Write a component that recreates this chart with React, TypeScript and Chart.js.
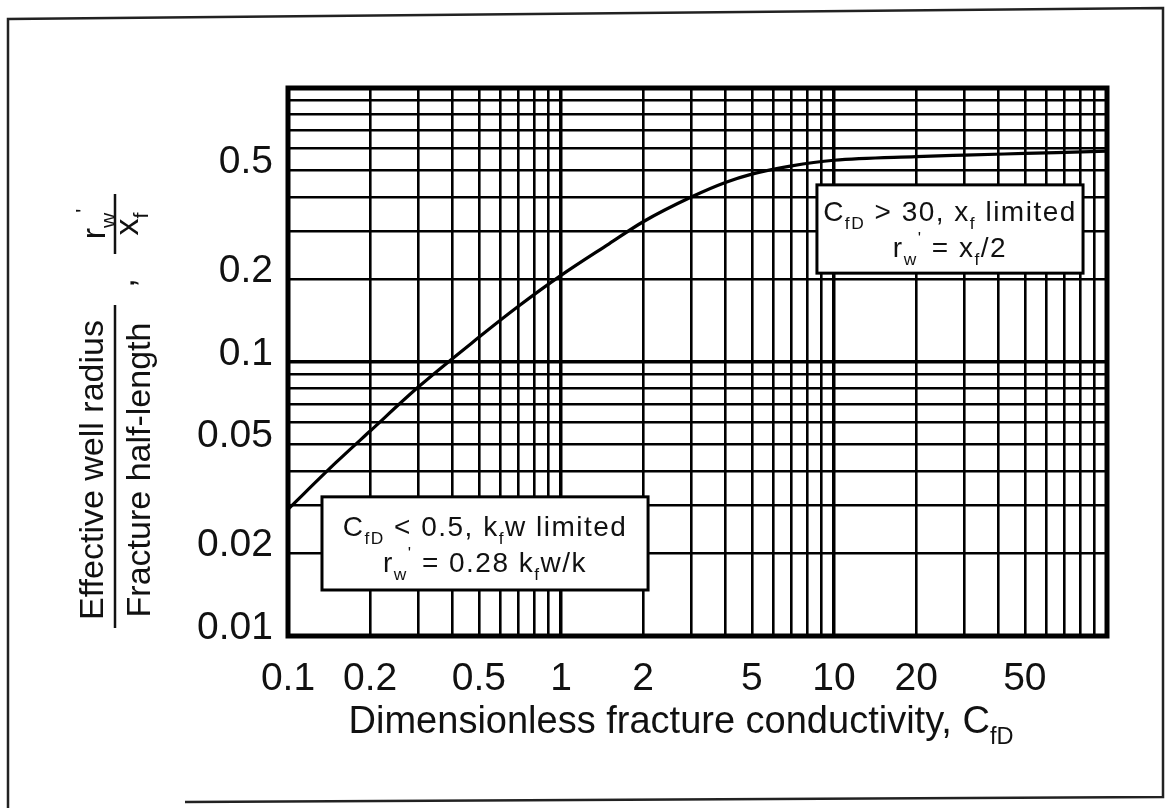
import React, { useEffect, useRef } from 'react';
import { Chart, registerables } from 'chart.js';

Chart.register(...registerables);

// ---- data ----
const cfd = [0.1, 0.15, 0.2, 0.3, 0.5, 0.7, 1, 1.5, 2, 3, 4, 5, 7, 10, 20, 30, 50, 100];
const rwOverXf = [0.029, 0.043, 0.056, 0.081, 0.123, 0.16, 0.207, 0.27, 0.325, 0.4, 0.452, 0.485, 0.52, 0.545, 0.562, 0.569, 0.577, 0.588];

const xTickLabels = ['0.1', '0.2', '0.5', '1', '2', '5', '10', '20', '50'];
const yTickLabels = ['0.01', '0.02', '0.05', '0.1', '0.2', '0.5'];
const xRange = [0.1, 100];
const yRange = [0.01, 1];

type Seg = { t: string; s?: 'sub' | 'sup' };

const xTitle: Seg[] = [{ t: 'Dimensionless fracture conductivity, C' }, { t: 'fD', s: 'sub' }];
const yTitleNumerator: Seg[] = [{ t: 'Effective well radius' }];
const yTitleDenominator: Seg[] = [{ t: 'Fracture half-length' }];
const yTitleRatioTop: Seg[] = [{ t: 'r' }, { t: 'w', s: 'sub' }, { t: "'", s: 'sup' }];
const yTitleRatioBottom: Seg[] = [{ t: 'x' }, { t: 'f', s: 'sub' }];

// annotation boxes, corners in data units
const noteBoxes = [
  {
    x0: 8.66, x1: 81.7, yTop: 0.443, yBottom: 0.211,
    lines: [
      [{ t: 'C' }, { t: 'fD', s: 'sub' }, { t: ' > 30, x' }, { t: 'f', s: 'sub' }, { t: ' limited' }] as Seg[],
      [{ t: 'r' }, { t: 'w', s: 'sub' }, { t: "'", s: 'sup' }, { t: ' = x' }, { t: 'f', s: 'sub' }, { t: '/2' }] as Seg[],
    ],
  },
  {
    x0: 0.1332, x1: 2.084, yTop: 0.0322, yBottom: 0.01472,
    lines: [
      [{ t: 'C' }, { t: 'fD', s: 'sub' }, { t: ' < 0.5, k' }, { t: 'f', s: 'sub' }, { t: 'w limited' }] as Seg[],
      [{ t: 'r' }, { t: 'w', s: 'sub' }, { t: "'", s: 'sup' }, { t: ' = 0.28 k' }, { t: 'f', s: 'sub' }, { t: 'w/k' }] as Seg[],
    ],
  },
];

const FAMILY = '"Liberation Sans", Arial, Helvetica, sans-serif';
const INK = '#111';

function logGrid(min: number, max: number): number[] {
  const out: number[] = [];
  for (let e = Math.floor(Math.log10(min)); e <= Math.ceil(Math.log10(max)); e++) {
    for (let m = 1; m <= 9; m++) {
      const v = Number((m * Math.pow(10, e)).toPrecision(6));
      if (v >= min - 1e-12 && v <= max + 1e-12) out.push(v);
    }
  }
  return out;
}

const xGrid = logGrid(xRange[0], xRange[1]);
const yGrid = logGrid(yRange[0], yRange[1]);

function labelFor(v: number, labels: string[]): string {
  const i = labels.findIndex((l) => Math.abs(Number(l) - v) / v < 1e-6);
  return i >= 0 ? labels[i] : '';
}

function isDecade(v: number): boolean {
  const l = Math.log10(v);
  return Math.abs(l - Math.round(l)) < 1e-6;
}

function drawRich(ctx: CanvasRenderingContext2D, segs: Seg[], cx: number, baseY: number, size: number, spacing = 0) {
  (ctx as any).letterSpacing = `${spacing}px`;
  const fsOf = (s: Seg) => (s.s ? size * 0.62 : size);
  const widths = segs.map((s) => {
    ctx.font = `${fsOf(s)}px ${FAMILY}`;
    return ctx.measureText(s.t).width;
  });
  const total = widths.reduce((a, b) => a + b, 0);
  let x = cx - total / 2;
  ctx.textAlign = 'left';
  ctx.textBaseline = 'alphabetic';
  segs.forEach((s, i) => {
    ctx.font = `${fsOf(s)}px ${FAMILY}`;
    const dy = s.s === 'sub' ? size * 0.3 : s.s === 'sup' ? -size * 0.45 : 0;
    ctx.fillText(s.t, x, baseY + dy);
    x += widths[i];
  });
  (ctx as any).letterSpacing = '0px';
}

const decorPlugin = {
  id: 'decor',
  afterDraw(chart: any) {
    const ctx: CanvasRenderingContext2D = chart.ctx;
    const { left, right, top, bottom } = chart.chartArea;
    const xs = chart.scales.x;
    const ys = chart.scales.y;
    ctx.save();

    // outer frame of the figure
    ctx.strokeStyle = '#222';
    ctx.lineWidth = 2.5;
    ctx.beginPath();
    ctx.moveTo(8, 808);
    ctx.lineTo(8, 19);
    ctx.lineTo(1163, 8);
    ctx.lineTo(1163, 797);
    ctx.lineTo(185, 802);
    ctx.stroke();

    // plot border
    ctx.strokeStyle = '#000';
    ctx.lineWidth = 5;
    ctx.strokeRect(left, top, right - left, bottom - top);

    // annotation boxes
    for (const b of noteBoxes) {
      const x0 = xs.getPixelForValue(b.x0);
      const x1 = xs.getPixelForValue(b.x1);
      const y0 = ys.getPixelForValue(b.yTop);
      const y1 = ys.getPixelForValue(b.yBottom);
      ctx.fillStyle = '#fff';
      ctx.fillRect(x0, y0, x1 - x0, y1 - y0);
      ctx.strokeStyle = '#000';
      ctx.lineWidth = 3;
      ctx.strokeRect(x0, y0, x1 - x0, y1 - y0);
      ctx.fillStyle = INK;
      const cx = (x0 + x1) / 2;
      const cy = (y0 + y1) / 2;
      const size = 28;
      b.lines.forEach((line, i) => {
        const lineCenter = cy + (i === 0 ? -18 : 18);
        drawRich(ctx, line, cx, lineCenter + size * 0.36, size, 1.5);
      });
    }

    // x-axis title
    ctx.fillStyle = INK;
    drawRich(ctx, xTitle, 681, 733, 38);

    // y-axis title (rotated)
    const rot = (px: number, py: number, fn: () => void) => {
      ctx.save();
      ctx.translate(px, py);
      ctx.rotate(-Math.PI / 2);
      fn();
      ctx.restore();
    };
    rot(103, 470, () => drawRich(ctx, yTitleNumerator, 0, 0, 34));
    rot(150, 470, () => drawRich(ctx, yTitleDenominator, 0, 0, 34));
    rot(134, 283, () => drawRich(ctx, [{ t: ',' }], 0, 0, 34));
    rot(105, 224, () => drawRich(ctx, yTitleRatioTop, 0, 0, 34));
    rot(138, 224, () => drawRich(ctx, yTitleRatioBottom, 0, 0, 34));
    ctx.strokeStyle = INK;
    ctx.lineWidth = 2.5;
    ctx.beginPath();
    ctx.moveTo(115, 305);
    ctx.lineTo(115, 628);
    ctx.moveTo(115, 194);
    ctx.lineTo(115, 254);
    ctx.stroke();

    ctx.restore();
  },
};

export default function App() {
  const ref = useRef<HTMLCanvasElement>(null);

  useEffect(() => {
    const canvas = ref.current!;
    const chart = new Chart(canvas, {
      type: 'line',
      data: {
        datasets: [
          {
            data: cfd.map((x, i) => ({ x, y: rwOverXf[i] })),
            borderColor: '#000',
            borderWidth: 3.2,
            pointRadius: 0,
            cubicInterpolationMode: 'monotone',
            fill: false,
          },
        ],
      },
      options: {
        animation: false,
        responsive: false,
        devicePixelRatio: 1,
        layout: { padding: { top: 88, right: 68, left: 0, bottom: 0 } },
        plugins: { legend: { display: false }, tooltip: { enabled: false } },
        events: [],
        scales: {
          x: {
            type: 'logarithmic',
            min: xRange[0],
            max: xRange[1],
            afterBuildTicks: (scale: any) => {
              scale.ticks = xGrid.map((v) => ({ value: v }));
            },
            afterFit: (scale: any) => {
              scale.height = 808 - 636;
              scale.paddingLeft = 0;
              scale.paddingRight = 0;
            },
            grid: {
              color: '#000',
              lineWidth: (c: any) => (c.tick && isDecade(c.tick.value) ? 3.5 : 2.6),
              drawTicks: false,
              tickLength: 0,
            },
            border: { display: false },
            ticks: {
              autoSkip: false,
              maxRotation: 0,
              minRotation: 0,
              padding: 20,
              color: INK,
              font: { family: FAMILY, size: 39 },
              callback: (_v: any, i: number, ticks: any[]) => labelFor(ticks[i].value, xTickLabels),
            },
          },
          y: {
            type: 'logarithmic',
            min: yRange[0],
            max: yRange[1],
            afterBuildTicks: (scale: any) => {
              scale.ticks = yGrid.map((v) => ({ value: v }));
            },
            afterFit: (scale: any) => {
              scale.width = 288;
              scale.paddingTop = 0;
              scale.paddingBottom = 0;
            },
            grid: {
              color: '#000',
              lineWidth: (c: any) => (c.tick && isDecade(c.tick.value) ? 3.5 : 2.6),
              drawTicks: false,
              tickLength: 0,
            },
            border: { display: false },
            ticks: {
              autoSkip: false,
              padding: 15,
              labelOffset: -8,
              color: INK,
              font: { family: FAMILY, size: 39 },
              callback: (_v: any, i: number, ticks: any[]) => labelFor(ticks[i].value, yTickLabels),
            },
          },
        },
      },
      plugins: [decorPlugin],
    } as any);
    return () => chart.destroy();
  }, []);

  return (
    <div style={{ position: 'fixed', left: 0, top: 0, width: 1175, height: 808, background: '#fff' }}>
      <canvas ref={ref} width={1175} height={808} style={{ width: 1175, height: 808, display: 'block' }} />
    </div>
  );
}
